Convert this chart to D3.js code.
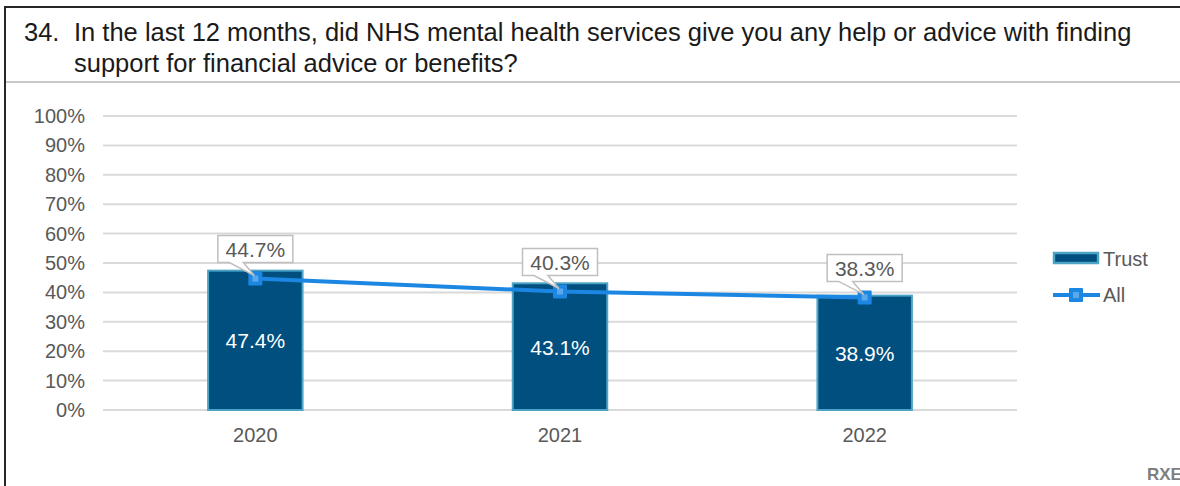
<!DOCTYPE html>
<html>
<head>
<meta charset="utf-8">
<script src="https://cdn.jsdelivr.net/npm/d3@7"></script>
<style>
  body { margin: 0; background: #fff; }
  text { font-family: "Liberation Sans", Arial, sans-serif; }
</style>
</head>
<body>
<div id="canvas"></div>
<script>
// data
var years = ['2020', '2021', '2022'];
var trust = [47.4, 43.1, 38.9];
var all = [44.7, 40.3, 38.3];
var yTicks = [0, 10, 20, 30, 40, 50, 60, 70, 80, 90, 100];
var titleNum = '34.';
var titleLines = ['In the last 12 months, did NHS mental health services give you any help or advice with finding',
                  'support for financial advice or benefits?'];

var W = 1180, H = 486;
var m = {t: 116, l: 103, r: 163, b: 76};
var w = W - m.l - m.r, h = H - m.t - m.b;

var svg = d3.select('#canvas').append('svg')
    .attr('width', W).attr('height', H);

// frame + title
svg.append('rect').attr('x', 5).attr('y', 7).attr('width', W + 20).attr('height', H + 20)
    .attr('fill', 'none').attr('stroke', '#262626').attr('stroke-width', 2);
svg.append('line').attr('x1', 6).attr('x2', W).attr('y1', 82).attr('y2', 82)
    .attr('stroke', '#c8c8c8').attr('stroke-width', 2);

svg.append('text').attr('x', 24).attr('y', 41).attr('font-size', 25.5).attr('fill', '#1a1a1a').text(titleNum);
titleLines.forEach(function(t, i){
    svg.append('text').attr('x', 74).attr('y', 41 + i * 31).attr('font-size', 25.5).attr('fill', '#1a1a1a').text(t);
});

var plot = svg.append('g').attr('transform', 'translate(' + m.l + ',' + m.t + ')');

var x = d3.scaleBand().domain(years).range([0, w]).paddingInner(0.69).paddingOuter(0.345);
var y = d3.scaleLinear().domain([0, 100]).range([h, 0]);

// gridlines
plot.selectAll('.grid').data(yTicks).enter().append('line')
    .attr('x1', 0).attr('x2', w)
    .attr('y1', function(d){ return y(d); }).attr('y2', function(d){ return y(d); })
    .attr('stroke', '#d9d9d9').attr('stroke-width', 2);

// y axis
var yAxis = plot.append('g').call(d3.axisLeft(y).tickValues(yTicks).tickSize(0).tickPadding(18)
    .tickFormat(function(d){ return d + '%'; }));
yAxis.select('.domain').remove();
yAxis.selectAll('text').attr('font-size', 20).attr('fill', '#595959')
    .style('font-family', '"Liberation Sans", Arial, sans-serif');

// x axis
var xAxis = plot.append('g').attr('transform', 'translate(0,' + h + ')')
    .call(d3.axisBottom(x).tickSize(0).tickPadding(18));
xAxis.select('.domain').remove();
xAxis.selectAll('text').attr('font-size', 20).attr('fill', '#595959')
    .style('font-family', '"Liberation Sans", Arial, sans-serif');

// bars
plot.selectAll('.bar').data(trust).enter().append('rect')
    .attr('x', function(d, i){ return x(years[i]); })
    .attr('y', function(d){ return y(d); })
    .attr('width', x.bandwidth())
    .attr('height', function(d){ return h - y(d); })
    .attr('fill', '#004f7e').attr('stroke', '#4ba3c6').attr('stroke-width', 2);

plot.selectAll('.barlab').data(trust).enter().append('text')
    .attr('x', function(d, i){ return x(years[i]) + x.bandwidth() / 2; })
    .attr('y', function(d){ return (y(d) + h) / 2 + 8; })
    .attr('text-anchor', 'middle').attr('font-size', 21).attr('fill', '#fff')
    .text(function(d){ return d.toFixed(1) + '%'; });

// line
var cx = function(d, i){ return x(years[i]) + x.bandwidth() / 2; };
var line = d3.line().x(cx).y(function(d){ return y(d); });
plot.append('path').datum(all).attr('d', line)
    .attr('fill', 'none').attr('stroke', '#1b87e2').attr('stroke-width', 4);

plot.selectAll('.mk').data(all).enter().append('rect')
    .attr('x', function(d, i){ return cx(d, i) - 7; })
    .attr('y', function(d){ return y(d) - 7; })
    .attr('width', 14).attr('height', 14).attr('rx', 1)
    .attr('fill', '#1b87e2');
plot.selectAll('.mk2').data(all).enter().append('rect')
    .attr('x', function(d, i){ return cx(d, i) - 3; })
    .attr('y', function(d){ return y(d) - 3; })
    .attr('width', 6).attr('height', 6)
    .attr('fill', '#5aa8ea');

// callout labels
var bw = 75, bh = 27;
plot.selectAll('.call').data(all).enter().append('path')
    .attr('d', function(d, i){
        var c = cx(d, i), my = y(d), b = my - 16, t = b - bh;
        var l = c - bw / 2, r = c + bw / 2;
        return 'M' + l + ',' + t + 'H' + r + 'V' + b + 'H' + (c - 12) +
            'L' + (c - 1) + ',' + (my - 3) + 'L' + (c - 26) + ',' + b + 'H' + l + 'Z';
    })
    .attr('fill', '#fff').attr('stroke', '#bfbfbf').attr('stroke-width', 1.5);
plot.selectAll('.calltxt').data(all).enter().append('text')
    .attr('x', cx)
    .attr('y', function(d){ return y(d) - 16 - bh / 2 + 8; })
    .attr('text-anchor', 'middle').attr('font-size', 21).attr('fill', '#595959')
    .text(function(d){ return d.toFixed(1) + '%'; });

// legend
var lg = svg.append('g').attr('transform', 'translate(1053,0)');
lg.append('rect').attr('x', 1).attr('y', 253).attr('width', 44).attr('height', 10)
    .attr('fill', '#004f7e').attr('stroke', '#4ba3c6').attr('stroke-width', 2.5);
lg.append('text').attr('x', 50).attr('y', 266).attr('font-size', 20).attr('fill', '#595959').text('Trust');
lg.append('line').attr('x1', 0).attr('x2', 47).attr('y1', 295).attr('y2', 295)
    .attr('stroke', '#1b87e2').attr('stroke-width', 4);
lg.append('rect').attr('x', 16).attr('y', 288).attr('width', 14).attr('height', 14).attr('rx', 1).attr('fill', '#1b87e2');
lg.append('rect').attr('x', 20).attr('y', 292).attr('width', 6).attr('height', 6).attr('fill', '#5aa8ea');
lg.append('text').attr('x', 50).attr('y', 302).attr('font-size', 20).attr('fill', '#595959').text('All');

// footer code
svg.append('text').attr('x', 1147).attr('y', 480).attr('font-size', 17).attr('font-weight', 'bold')
    .attr('fill', '#7f7f7f').text('RXE');
</script>
</body>
</html>
